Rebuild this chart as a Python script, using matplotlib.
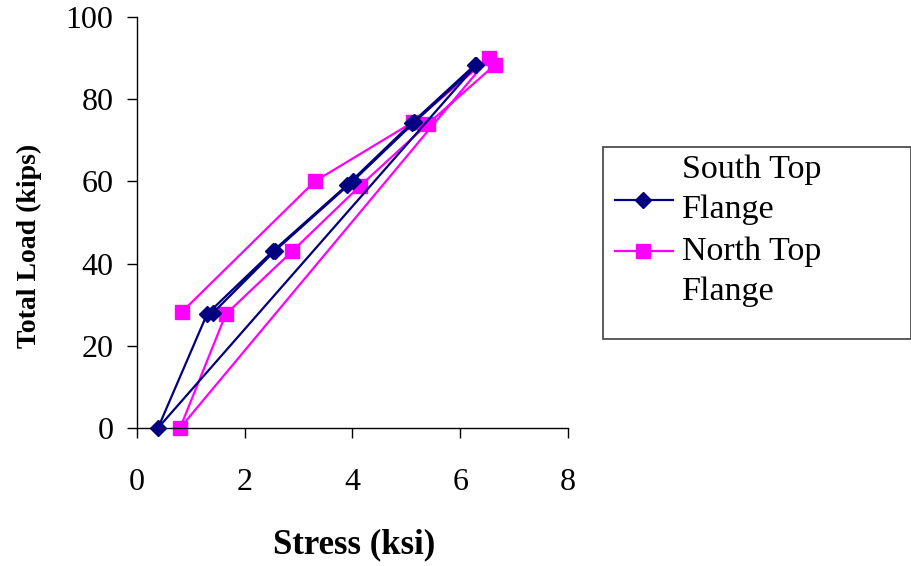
import matplotlib.pyplot as plt
from matplotlib.lines import Line2D
from matplotlib.patches import Rectangle

plt.rcParams['font.family'] = ['Liberation Serif', 'DejaVu Serif']

# South Top Flange: reload cycle, unload to zero, second cycle
south_stress = [1.41, 2.56, 4.01, 5.15, 6.30, 0.39, 1.30, 2.52, 3.90, 5.10, 6.27]
south_load = [28.0, 43.1, 60.1, 74.4, 88.3, 0.0, 27.7, 43.0, 59.1, 74.2, 88.3]

# North Top Flange
north_stress = [0.83, 3.30, 5.12, 6.53, 0.80, 1.65, 2.88, 4.14, 5.40, 6.64]
north_load = [28.2, 60.0, 74.4, 90.0, 0.0, 27.7, 43.0, 58.9, 74.0, 88.3]

x_ticks = [0, 2, 4, 6, 8]
y_ticks = [0, 20, 40, 60, 80, 100]

fig = plt.figure(figsize=(9.12, 5.66), dpi=100)
ax = fig.add_axes([0.1502, 0.2438, 0.4726, 0.7262])

ax.plot(south_stress, south_load, color='#000080', linewidth=1.6,
        marker='D', markersize=8.5, clip_on=False, zorder=3)
ax.plot(north_stress, north_load, color='#FF00FF', linewidth=1.6,
        marker='s', markersize=10.5, clip_on=False, zorder=2)

ax.set_xlim(0, 8)
ax.set_ylim(0, 100)
ax.set_xticks(x_ticks)
ax.set_yticks(y_ticks)
ax.spines['top'].set_visible(False)
ax.spines['right'].set_visible(False)
for s in ('left', 'bottom'):
    ax.spines[s].set_linewidth(1.0)
ax.tick_params(axis='both', direction='out', length=7, width=1.0,
               labelsize=23, colors='black')
ax.tick_params(axis='x', pad=22)
ax.tick_params(axis='y', pad=10)

ax.set_xlabel('Stress (ksi)', fontsize=25, fontweight='bold')
ax.set_ylabel('Total Load (kips)', fontsize=20, fontweight='bold')
ax.xaxis.set_label_coords(0.503, -0.285)
ax.yaxis.set_label_coords(-0.25, 0.443)
ax.xaxis.label.set_va('center')
ax.yaxis.label.set_va('center')

# legend drawn by hand to match the original layout
fig.patches.append(Rectangle((603 / 912, 1 - 339 / 566), 308 / 912, 192 / 566,
                             transform=fig.transFigure, fill=False,
                             edgecolor='#404040', linewidth=1.2))
fig.lines.append(Line2D([615 / 912, 673 / 912], [1 - 200 / 566] * 2,
                        transform=fig.transFigure, color='#000080',
                        linewidth=1.6))
fig.lines.append(Line2D([643 / 912], [1 - 200 / 566], transform=fig.transFigure,
                        color='#000080', marker='D', markersize=8.5))
fig.lines.append(Line2D([615 / 912, 673 / 912], [1 - 251 / 566] * 2,
                        transform=fig.transFigure, color='#FF00FF',
                        linewidth=1.6))
fig.lines.append(Line2D([643 / 912], [1 - 251 / 566], transform=fig.transFigure,
                        color='#FF00FF', marker='s', markersize=10.5))
for txt, ypx in [('South Top', 170), ('Flange', 210),
                 ('North Top', 252), ('Flange', 292)]:
    fig.text(682 / 912, 1 - ypx / 566, txt, fontsize=24.5,
             ha='left', va='center')

fig.savefig('out.png', dpi=100)
